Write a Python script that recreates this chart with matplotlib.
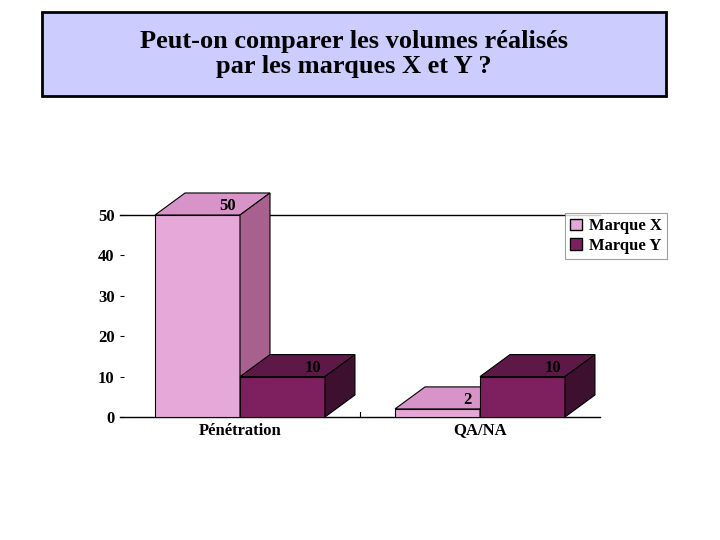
import matplotlib
matplotlib.use("Agg")
import matplotlib.pyplot as plt
from matplotlib.patches import Polygon, Rectangle

categories = ["Pénétration", "QA/NA"]
series = ["Marque X", "Marque Y"]
values_x = [50, 2]
values_y = [10, 10]
yticks = [0, 10, 20, 30, 40, 50]

plt.rcParams['font.family'] = ['Liberation Serif', 'DejaVu Serif']
plt.rcParams['font.weight'] = 'bold'

fig = plt.figure(figsize=(7.2, 5.4), dpi=100)
# title box
fig.patches.append(Rectangle((42/720, 1-96/540), 624/720, 84/540, transform=fig.transFigure,
                             facecolor='#ccccff', edgecolor='black', linewidth=2))
fig.text(354/720, 1-54/540, "Peut-on comparer les volumes réalisés\npar les marques X et Y ?",
         ha='center', va='center', fontsize=19, fontweight='bold', linespacing=1.15)

ax = fig.add_axes([120/720, 1-417/540, 480/720, 202/540])
ax.set_xlim(-0.5, 1.5)
ax.set_ylim(0, 50)
w = 0.354
dx, dy = 0.125, 5.45
cols = [('#e6a8d8', '#d894c8', '#a8608f'), ('#7e2060', '#5e1848', '#3e1030')]
for s, vals in enumerate([values_x, values_y]):
    for i, v in enumerate(vals):
        x0 = i - w if s == 0 else i
        front, top, side = cols[s]
        ax.bar(x0, v, width=w, align='edge', color=front, edgecolor='black', linewidth=0.8, zorder=3 + s)
        ax.add_patch(Polygon([(x0, v), (x0 + dx, v + dy), (x0 + w + dx, v + dy), (x0 + w, v)],
                             closed=True, facecolor=top, edgecolor='black', linewidth=0.8, zorder=3 + s, clip_on=False))
        ax.add_patch(Polygon([(x0 + w, 0), (x0 + w + dx, dy), (x0 + w + dx, v + dy), (x0 + w, v)],
                             closed=True, facecolor=side, edgecolor='black', linewidth=0.8, zorder=3 + s, clip_on=False))
        ax.text(x0 + w / 2 + dx, v + dy * 0.4, str(v), ha='center', va='center',
                fontsize=12, fontweight='bold', zorder=10)

for sp in ['left', 'right']:
    ax.spines[sp].set_visible(False)
ax.spines['top'].set_linewidth(1)
ax.spines['bottom'].set_linewidth(1)
ax.set_yticks(yticks)
ax.set_yticklabels([str(t) for t in yticks], fontsize=12, fontweight='bold')
ax.tick_params(axis='y', length=3, direction='in', pad=4)
ax.set_xticks([0, 1])
ax.set_xticklabels(categories, fontsize=12, fontweight='bold')
ax.tick_params(axis='x', length=0, pad=4)
ax.plot([0.5, 0.5], [0, 1.2], color='black', lw=0.8)

leg = ax.legend([Rectangle((0, 0), 1, 1, fc=cols[0][0], ec='black'),
                 Rectangle((0, 0), 1, 1, fc=cols[1][0], ec='black')], series,
                loc='upper left', bbox_to_anchor=(437/480, 1.05), frameon=True, fancybox=False,
                edgecolor='#888888', fontsize=12, handlelength=0.7, handletextpad=0.4,
                borderpad=0.3, labelspacing=0.2)
leg.get_frame().set_linewidth(0.8)
fig.savefig("out.png", dpi=100)
